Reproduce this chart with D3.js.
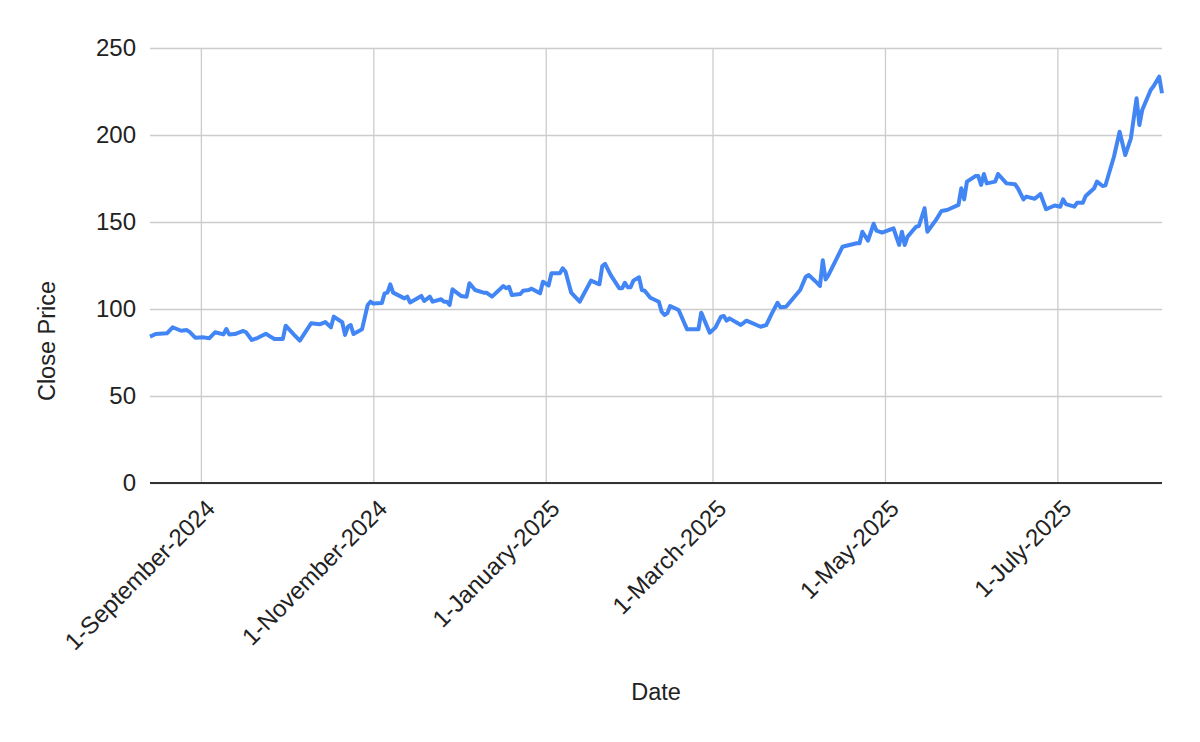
<!DOCTYPE html>
<html>
<head>
<meta charset="utf-8">
<script src="https://cdn.jsdelivr.net/npm/d3@7"></script>
<style>
  html, body { margin: 0; padding: 0; background: #fff; }
  svg text { font-family: "Liberation Sans", Arial, sans-serif; fill: #222; }
</style>
</head>
<body>
<svg id="chart" width="1200" height="742"></svg>
<script>
// ---- Data ----
const dates = [
  "2024-08-14","2024-08-16","2024-08-20","2024-08-22","2024-08-25","2024-08-27","2024-08-28","2024-08-30",
  "2024-09-02","2024-09-04","2024-09-06","2024-09-09","2024-09-10","2024-09-11","2024-09-13","2024-09-16",
  "2024-09-17","2024-09-19","2024-09-21","2024-09-24","2024-09-26","2024-09-27","2024-09-30","2024-10-01",
  "2024-10-04","2024-10-06","2024-10-10","2024-10-13","2024-10-15","2024-10-17","2024-10-18","2024-10-21",
  "2024-10-22","2024-10-23","2024-10-24","2024-10-25","2024-10-28","2024-10-30","2024-10-31","2024-11-01",
  "2024-11-04","2024-11-05","2024-11-06","2024-11-07","2024-11-08","2024-11-12","2024-11-13","2024-11-14",
  "2024-11-18","2024-11-19","2024-11-21","2024-11-22","2024-11-25","2024-11-26","2024-11-27","2024-11-28",
  "2024-11-29","2024-12-02","2024-12-04","2024-12-05","2024-12-07","2024-12-10","2024-12-11","2024-12-13",
  "2024-12-17","2024-12-18","2024-12-19","2024-12-20","2024-12-23","2024-12-24","2024-12-26","2024-12-27",
  "2024-12-30","2024-12-31","2025-01-02","2025-01-03","2025-01-06","2025-01-07","2025-01-08","2025-01-10",
  "2025-01-13","2025-01-17","2025-01-20","2025-01-21","2025-01-22","2025-01-24","2025-01-27","2025-01-28",
  "2025-01-29","2025-01-30","2025-01-31","2025-02-01","2025-02-03","2025-02-04","2025-02-05","2025-02-07",
  "2025-02-10","2025-02-11","2025-02-12","2025-02-13","2025-02-14","2025-02-17","2025-02-20","2025-02-24",
  "2025-02-25","2025-02-28","2025-03-02","2025-03-04","2025-03-05","2025-03-06","2025-03-07","2025-03-11",
  "2025-03-13","2025-03-18","2025-03-20","2025-03-22","2025-03-24","2025-03-25","2025-03-27","2025-04-01",
  "2025-04-03","2025-04-04","2025-04-07","2025-04-08","2025-04-09","2025-04-10","2025-04-11","2025-04-16",
  "2025-04-17","2025-04-21","2025-04-22","2025-04-23","2025-04-25","2025-04-27","2025-04-28","2025-04-30",
  "2025-05-04","2025-05-06","2025-05-07","2025-05-08","2025-05-09","2025-05-12","2025-05-13","2025-05-15",
  "2025-05-16","2025-05-19","2025-05-21","2025-05-23","2025-05-27","2025-05-28","2025-05-29","2025-05-30",
  "2025-06-02","2025-06-03","2025-06-04","2025-06-05","2025-06-06","2025-06-09","2025-06-10","2025-06-13",
  "2025-06-16","2025-06-17","2025-06-19","2025-06-20","2025-06-23","2025-06-25","2025-06-27","2025-06-30",
  "2025-07-02","2025-07-03","2025-07-04","2025-07-07","2025-07-08","2025-07-10","2025-07-11","2025-07-14",
  "2025-07-15","2025-07-17","2025-07-18","2025-07-21","2025-07-23","2025-07-25","2025-07-27","2025-07-29",
  "2025-07-30","2025-07-31","2025-08-03","2025-08-04","2025-08-06","2025-08-07"
];
const closePrices = [
  84.1,85.6,86.0,89.5,87.5,87.9,86.8,83.5,
  83.7,83.2,86.6,85.4,88.5,85.4,85.6,87.4,
  86.6,82.2,83.3,85.8,83.7,82.8,82.8,90.4,
  85.1,81.8,91.8,91.2,92.5,89.5,95.6,92.4,
  85.1,89.8,90.8,85.6,88.3,102.3,104.2,103.1,
  103.4,109.0,109.4,114.2,109.4,106.1,107.1,103.8,
  107.5,104.6,107.1,104.2,105.6,104.2,104.2,102.3,
  111.3,107.5,107.1,114.8,110.9,109.4,109.4,107.1,
  113.2,111.9,112.8,108.0,108.6,110.5,110.9,111.7,
  109.0,115.7,113.5,120.5,120.5,123.4,121.4,109.4,
  104.2,116.3,114.2,124.7,125.9,119.5,111.9,111.9,
  115.1,112.5,112.5,116.3,118.2,110.9,110.5,106.5,
  104.2,98.4,96.6,97.5,101.7,99.4,88.3,88.3,
  97.9,86.4,89.3,95.6,96.0,93.3,94.6,90.8,
  93.3,89.8,90.8,97.5,103.6,101.0,101.3,110.9,
  118.6,119.5,115.0,113.2,128.0,117.0,119.5,135.8,
  136.2,137.8,137.8,144.4,139.3,149.0,145.0,143.9,
  146.4,136.8,144.4,136.8,141.6,147.3,147.7,157.9,
  144.4,151.1,156.3,156.9,159.8,169.4,163.0,173.2,
  176.4,176.4,171.3,177.6,172.2,173.2,177.6,172.2,
  171.7,169.4,163.0,164.6,163.4,166.1,157.3,159.5,
  158.8,163.0,160.3,158.8,161.1,161.1,165.0,169.4,
  173.2,170.7,171.1,187.5,201.9,188.5,198.1,221.1,
  205.7,214.4,225.9,228.0,233.5,224.0
];
const yTicks = [0, 50, 100, 150, 200, 250];
const xTickDates = ["2024-09-01","2024-11-01","2025-01-01","2025-03-01","2025-05-01","2025-07-01"];
const xTitle = "Date";
const yTitle = "Close Price";

// ---- Build ----
const FONT = "'Liberation Sans', Arial, sans-serif";
const parse = d3.utcParse("%Y-%m-%d");
const data = dates.map((d, i) => ({ date: parse(d), value: closePrices[i] }));

const svg = d3.select("#chart");
const pLeft = 150, pRight = 1162, pTop = 48, pBottom = 483;

const x = d3.scaleUtc().domain(d3.extent(data, d => d.date)).range([pLeft, pRight]);
const y = d3.scaleLinear().domain([0, 250]).range([pBottom, pTop]);

const fmt = d3.utcFormat("%-d-%B-%Y");

// horizontal gridlines
const yAxis = d3.axisLeft(y).tickValues(yTicks).tickSize(-(pRight - pLeft)).tickFormat(d3.format("d")).tickPadding(14);
const gy = svg.append("g").attr("transform", `translate(${pLeft},0)`).call(yAxis);
gy.select(".domain").remove();
gy.selectAll(".tick line").attr("stroke", "#cccccc").attr("stroke-width", 1.3);
gy.selectAll(".tick text").attr("font-size", 24).attr("fill", "#222").style("font-family", FONT);

// vertical gridlines + labels
const xTicks = xTickDates.map(parse);
const xAxis = d3.axisBottom(x).tickValues(xTicks).tickSize(-(pBottom - pTop)).tickFormat(fmt);
const gx = svg.append("g").attr("transform", `translate(0,${pBottom})`).call(xAxis);
gx.select(".domain").remove();
gx.selectAll(".tick line").attr("stroke", "#cccccc").attr("stroke-width", 1.3);
gx.selectAll(".tick text")
  .attr("font-size", 24)
  .attr("fill", "#222")
  .style("font-family", FONT)
  .attr("text-anchor", "end")
  .attr("y", 0).attr("dy", 0)
  .attr("transform", "translate(15,27) rotate(-45)");

// zero baseline
svg.append("line")
  .attr("x1", pLeft).attr("x2", pRight)
  .attr("y1", y(0)).attr("y2", y(0))
  .attr("stroke", "#333333").attr("stroke-width", 2);

// line
const line = d3.line().x(d => x(d.date)).y(d => y(d.value));
svg.append("path")
  .datum(data)
  .attr("fill", "none")
  .attr("stroke", "#4285F4")
  .attr("stroke-width", 4)
  .attr("stroke-linejoin", "round")
  .attr("d", line);

// axis titles
svg.append("text")
  .attr("x", 656).attr("y", 700)
  .attr("text-anchor", "middle")
  .attr("font-size", 23.5)
  .style("font-family", FONT)
  .text(xTitle);

svg.append("text")
  .attr("transform", "translate(55,341) rotate(-90)")
  .attr("text-anchor", "middle")
  .attr("font-size", 23.5)
  .style("font-family", FONT)
  .text(yTitle);
</script>
</body>
</html>
